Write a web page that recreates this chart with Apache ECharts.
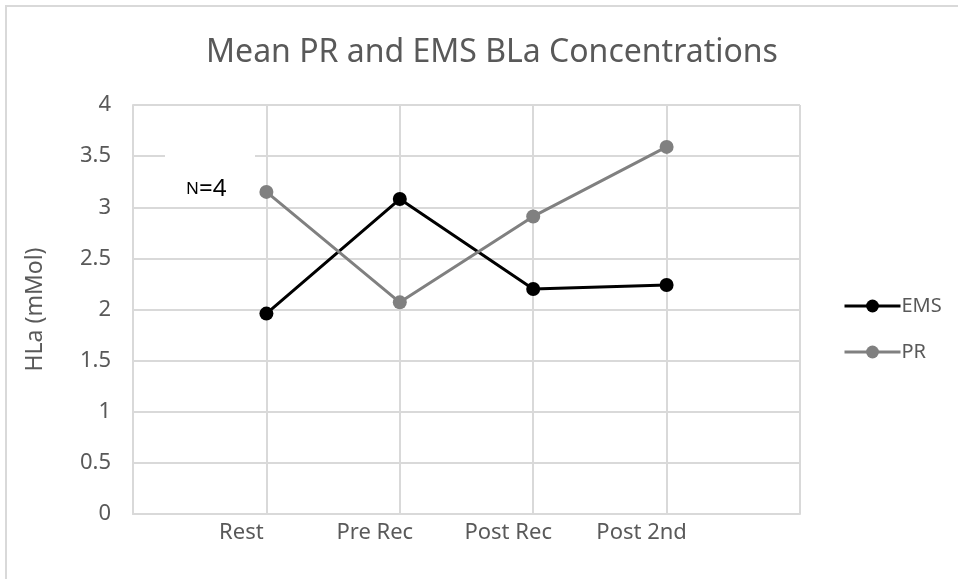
<!DOCTYPE html>
<html>
<head>
<meta charset="utf-8">
<script src="https://cdn.jsdelivr.net/npm/echarts@6/dist/echarts.min.js"></script>
<style>
  html, body { margin: 0; padding: 0; background: #fff; }
  #main { width: 958px; height: 579px; }
</style>
</head>
<body>
<div id="main"></div>
<script>
// categories (empty slots at both ends so points sit on the grid lines)
const categories = ['', 'Rest', 'Pre Rec', 'Post Rec', 'Post 2nd', ''];
const emsValues = [null, 1.96, 3.08, 2.20, 2.24, null];
const prValues = [null, 3.15, 2.07, 2.91, 3.59, null];
const yTicks = [0, 0.5, 1, 1.5, 2, 2.5, 3, 3.5, 4];

const chart = echarts.init(document.getElementById('main'));
const textColor = '#595959';
const font = 'Noto Sans';

const option = {
    animation: false,
    backgroundColor: '#fff',
    title: {
        text: 'Mean PR and EMS BLa Concentrations',
        left: 487,
        textAlign: 'center',
        top: 32,
        textStyle: { color: textColor, fontSize: 32, fontWeight: 'normal', fontFamily: font }
    },
    grid: { left: 133, right: 158, top: 105, bottom: 65 },
    legend: {
        orient: 'vertical',
        left: 838,
        top: 290,
        itemWidth: 56,
        itemHeight: 16,
        itemGap: 24,
        lineStyle: { width: 3 },
        textStyle: { color: textColor, fontSize: 20, lineHeight: 22, fontFamily: font, padding: [0, 0, 0, -4] },
        data: ['EMS', 'PR']
    },
    xAxis: {
        type: 'category',
        data: categories,
        boundaryGap: false,
        axisLine: { lineStyle: { color: '#d9d9d9', width: 2 } },
        axisTick: { show: false },
        splitLine: { show: true, lineStyle: { color: '#d9d9d9', width: 2 } },
        axisLabel: {
            interval: 0,
            color: textColor,
            fontSize: 22,
            fontFamily: font,
            margin: 8,
            padding: [0, 50, 0, 0]
        }
    },
    yAxis: {
        type: 'value',
        min: yTicks[0],
        max: yTicks[yTicks.length - 1],
        interval: 0.5,
        name: 'HLa (mMol)',
        nameLocation: 'middle',
        nameGap: 86,
        nameTextStyle: { color: textColor, fontSize: 23, fontFamily: font },
        axisLine: { show: true, lineStyle: { color: '#d9d9d9', width: 2 } },
        axisTick: { show: false },
        splitLine: { lineStyle: { color: '#d9d9d9', width: 2 } },
        axisLabel: { color: textColor, fontSize: 22, fontFamily: font, margin: 22 }
    },
    series: [
        {
            name: 'EMS',
            type: 'line',
            data: emsValues,
            symbol: 'circle',
            symbolSize: 14,
            itemStyle: { color: '#000000' },
            lineStyle: { color: '#000000', width: 3 }
        },
        {
            name: 'PR',
            type: 'line',
            data: prValues,
            symbol: 'circle',
            symbolSize: 14,
            itemStyle: { color: '#808080' },
            lineStyle: { color: '#808080', width: 3 }
        }
    ],
    graphic: [
        {
            type: 'rect',
            shape: { x: 6, y: 6, width: 1000, height: 1000 },
            style: { fill: 'none', stroke: '#d9d9d9', lineWidth: 2 },
            silent: true
        },
        {
            type: 'rect',
            shape: { x: 165, y: 154, width: 90, height: 46 },
            style: { fill: '#ffffff' },
            z: 10,
            silent: true
        },
        {
            type: 'text',
            x: 186,
            y: 189,
            z: 11,
            style: {
                text: '{s|N}{b|=4}',
                verticalAlign: 'middle',
                rich: {
                    s: { fontSize: 17, fontFamily: font, fill: '#000' },
                    b: { fontSize: 24, fontFamily: font, fill: '#000' }
                }
            }
        }
    ]
};

chart.setOption(option);
</script>
</body>
</html>
